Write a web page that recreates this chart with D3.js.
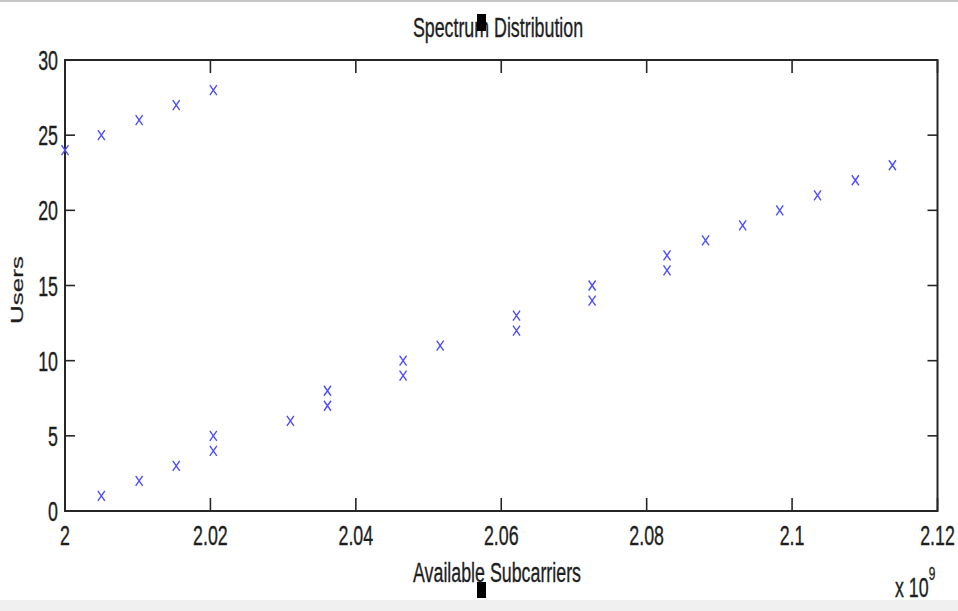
<!DOCTYPE html>
<html>
<head>
<meta charset="utf-8">
<script src="https://cdn.jsdelivr.net/npm/d3@7/dist/d3.min.js"></script>
<style>
  html, body { margin: 0; padding: 0; background: #fff; }
  svg { display: block; }
  text { font-family: "Liberation Sans", Arial, sans-serif; fill: #1e1e1e; stroke: #1e1e1e; stroke-width: 0.35px; }
</style>
</head>
<body>
<svg id="chart" width="958" height="611"></svg>
<script>
// ---- data (x in units of 1e9) ----
const subcarriers = [
  2.0, 2.005, 2.0102, 2.0153, 2.0204,
  2.005, 2.0102, 2.0153, 2.0204, 2.0204, 2.031, 2.0361, 2.0361, 2.0465, 2.0465,
  2.0516, 2.0621, 2.0621, 2.0725, 2.0725, 2.0828, 2.0828, 2.0881, 2.0932, 2.0983,
  2.1035, 2.1087, 2.1138
];
const users = [
  24, 25, 26, 27, 28,
  1, 2, 3, 4, 5, 6, 7, 8, 9, 10,
  11, 12, 13, 14, 15, 16, 17, 18, 19, 20,
  21, 22, 23
];
const xTicks = [2, 2.02, 2.04, 2.06, 2.08, 2.1, 2.12];
const yTicks = [0, 5, 10, 15, 20, 25, 30];
const titleText = "Spectrum Distribution";
const xLabelText = "Available Subcarriers";
const yLabelText = "Users";

(function () {
const svg = d3.select("#chart");
const W = 958, H = 611;
const pL = 65, pR = 937.5, pT = 60, pB = 511;
const SX = 0.66; // horizontal squeeze of the picture's text

const x = d3.scaleLinear().domain([2, 2.12]).range([pL, pR]);
const y = d3.scaleLinear().domain([0, 30]).range([pB, pT]);

// background bits
svg.append("rect").attr("x", 0).attr("y", 0).attr("width", W).attr("height", H).attr("fill", "#fff");
svg.append("rect").attr("x", 0).attr("y", 0).attr("width", W).attr("height", 2).attr("fill", "#c4c4c4");
svg.append("rect").attr("x", 0).attr("y", 600).attr("width", W).attr("height", 11).attr("fill", "#f0f0f0");

const axisColor = "#262626";

// ticks (inward, mirrored on all sides)
const tickG = svg.append("g").attr("stroke", axisColor).attr("stroke-width", 1.6);
xTicks.forEach(t => {
  tickG.append("line").attr("x1", x(t)).attr("x2", x(t)).attr("y1", pB).attr("y2", pB - 13);
  tickG.append("line").attr("x1", x(t)).attr("x2", x(t)).attr("y1", pT).attr("y2", pT + 13);
});
yTicks.forEach(t => {
  tickG.append("line").attr("x1", pL).attr("x2", pL + 10).attr("y1", y(t)).attr("y2", y(t));
  tickG.append("line").attr("x1", pR).attr("x2", pR - 10).attr("y1", y(t)).attr("y2", y(t));
});

// box
svg.append("rect")
  .attr("x", pL).attr("y", pT)
  .attr("width", pR - pL).attr("height", pB - pT)
  .attr("fill", "none").attr("stroke", axisColor).attr("stroke-width", 2);

// tick labels
const fmtX = d => d3.format("~g")(d);
xTicks.forEach(t => {
  svg.append("text")
    .attr("transform", `translate(${x(t)},545) scale(${SX},1)`)
    .attr("text-anchor", "middle")
    .attr("font-size", 27)
    .text(fmtX(t));
});
yTicks.forEach(t => {
  svg.append("text")
    .attr("transform", `translate(58,${y(t) + 10}) scale(${SX},1)`)
    .attr("text-anchor", "end")
    .attr("font-size", 27)
    .text(t);
});

// markers (x shaped)
const mk = svg.append("g").attr("stroke", "#4d4dff").attr("stroke-width", 1.4).attr("fill", "none");
subcarriers.forEach((sv, i) => {
  const cx = x(sv), cy = y(users[i]);
  mk.append("path").attr("d", `M${cx - 3.5},${cy - 5}L${cx + 3.5},${cy + 5}M${cx - 3.5},${cy + 5}L${cx + 3.5},${cy - 5}`);
});

// title
svg.append("text")
  .attr("transform", `translate(498,37) scale(${SX},1)`)
  .attr("text-anchor", "middle")
  .attr("font-size", 27)
  .text(titleText);

// x label
svg.append("text")
  .attr("transform", `translate(497,582) scale(${SX},1)`)
  .attr("text-anchor", "middle")
  .attr("font-size", 27)
  .text(xLabelText);

// y label (rotated)
svg.append("text")
  .attr("transform", `translate(23,290) rotate(-90) scale(1,0.6)`)
  .attr("text-anchor", "middle")
  .attr("font-size", 26)
  .text(yLabelText);

// exponent label
const ex = svg.append("text")
  .attr("transform", `translate(895,597) scale(${SX},1)`)
  .attr("font-size", 27);
ex.append("tspan").text("x 10");
ex.append("tspan").attr("dy", -17).attr("font-size", 18).text("9");

// black marker squares (figure artifacts)
svg.append("rect").attr("x", 477).attr("y", 14).attr("width", 9).attr("height", 17).attr("fill", "#000");
svg.append("rect").attr("x", 477).attr("y", 582).attr("width", 9).attr("height", 16).attr("fill", "#000");
})();
</script>
</body>
</html>
